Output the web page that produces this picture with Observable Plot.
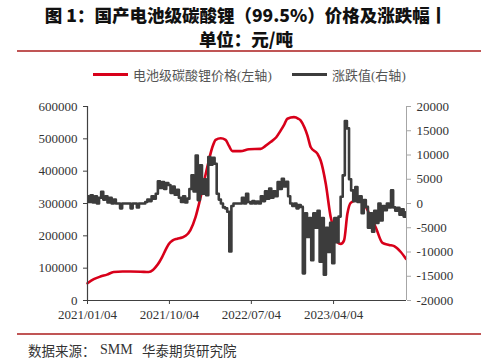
<!DOCTYPE html>
<html>
<head>
<meta charset="utf-8">
<script src="https://cdn.jsdelivr.net/npm/d3@7"></script>
<script src="https://cdn.jsdelivr.net/npm/@observablehq/plot@0.6"></script>
<style>
  html, body { margin:0; padding:0; background:#fff; }
  #wrap { position:relative; width:500px; height:362px; overflow:hidden; background:#fff; }
  .t { position:absolute; white-space:pre; }
  .title { left:0; width:492px; text-align:center; font-family:"Noto Sans CJK SC", sans-serif; font-weight:900; font-size:17.5px; color:#111; line-height:18px; }
  .sep { position:absolute; left:17px; width:464px; height:1.6px; background:#c05555; }
  .leg { font-family:"Noto Sans CJK SC", sans-serif; font-size:13px; color:#555; line-height:16px; }
  .sw { position:absolute; height:3px; }
  .cap { font-family:"Noto Sans CJK SC", sans-serif; font-size:13.5px; color:#333; line-height:16px; }
  #chart { position:absolute; left:0; top:95px; }
</style>
</head>
<body>
<div id="wrap">
  <div class="t title" style="top:6px;">图 1：国产电池级碳酸锂（99.5%）价格及涨跌幅丨</div>
  <div class="t title" style="top:30px;">单位：元/吨</div>
  <div class="sep" style="top:50px;"></div>
  <div class="sw" style="left:93px; top:73px; width:35px; background:#d8001a;"></div>
  <div class="t leg" style="left:133px; top:67px;">电池级碳酸锂价格<span style="font-family:'Liberation Serif',serif;">(</span>左轴<span style="font-family:'Liberation Serif',serif;">)</span></div>
  <div class="sw" style="left:292px; top:73px; width:35px; background:#3c3c3c;"></div>
  <div class="t leg" style="left:332px; top:67px;">涨跌值<span style="font-family:'Liberation Serif',serif;">(</span>右轴<span style="font-family:'Liberation Serif',serif;">)</span></div>
  <div id="chart"></div>
  <div class="sep" style="top:333px;"></div>
  <div class="t cap" style="left:28px; top:342px;">数据来源：</div>
  <div class="t cap" style="left:100px; top:342px; font-family:'Liberation Serif',serif; font-size:14px;">SMM</div>
  <div class="t cap" style="left:142px; top:342px;">华泰期货研究院</div>
</div>
<script>
// ---- data ----
const xTickLabels = ["2021/01/04", "2021/10/04", "2022/07/04", "2023/04/04"];
const leftTicks = [0, 100000, 200000, 300000, 400000, 500000, 600000];
const rightTicks = [-20000, -15000, -10000, -5000, 0, 5000, 10000, 15000, 20000];

// 电池级碳酸锂价格 (左轴)
const priceDates = [
  "2021/01/04","2021/01/25","2021/02/16","2021/03/10","2021/04/01","2021/05/01","2021/05/27","2021/06/30",
  "2021/07/27","2021/08/10","2021/08/19","2021/09/01","2021/09/10","2021/09/22","2021/10/02","2021/10/15",
  "2021/10/30","2021/11/15","2021/11/27","2021/12/13","2021/12/30","2022/01/16","2022/02/07","2022/02/24",
  "2022/03/07","2022/03/24","2022/04/09","2022/04/20","2022/05/02","2022/05/29","2022/06/26","2022/08/04",
  "2022/08/20","2022/09/06","2022/09/25","2022/10/10","2022/10/22","2022/11/01","2022/11/23","2022/12/08",
  "2022/12/15","2022/12/28","2023/01/07","2023/01/18","2023/02/09","2023/02/20","2023/03/09","2023/03/25",
  "2023/04/11","2023/04/17","2023/04/28","2023/05/09","2023/05/20","2023/05/31","2023/06/23","2023/07/15",
  "2023/08/01","2023/08/23","2023/09/14","2023/10/06","2023/10/23","2023/11/14","2023/12/01"
];
const priceValues = [
  53500, 66000, 74000, 80000, 88000, 89500, 89500, 89000,
  88000, 94000, 103000, 120000, 135000, 158000, 175000, 186000,
  191000, 195000, 200000, 218000, 258000, 320000, 412000, 474000,
  497000, 502000, 497000, 479000, 462000, 462000, 468000, 469000,
  478000, 490000, 505000, 526000, 545000, 562000, 567000, 562000,
  557000, 535000, 510000, 474000, 454000, 433000, 361000, 260000,
  206000, 180000, 175000, 186000, 268000, 302000, 312000, 299000,
  268000, 225000, 178000, 172000, 168000, 150000, 129000
];

// 涨跌值 (右轴), weekly readings starting 2021/01/04
const changeStart = "2021/01/04";
const changeStepDays = 7;
const changeValues = [
  1500, 300, 1700, 200, 1500, 0, 1200,
  2400, 800,
  1500, 200, 1200, 0, 800,
  0, 0, -1000, 0, 0, 0, 0, -1000, 0, 0, -800, 0, 0, 0,
  300, 800, 500, 1500, 1000, 2000,
  4600, 3200, 4400, 3000, 4200,
  3800, 2200, 3500, 1800, 2800,
  1200, 300, 1500, 200, 1000,
  3000, 5800, 2500,
  9900, 700, 7900, 2000, 5000, 1700,
  9600, 8000, 9400, 8200,
  2000, 800, 0,
  -800, -1000, -1700, -9900, -500,
  0, 0, 0, 0,
  1200, 0, 2000,
  300, 0, 500, 0, 400, 0,
  1500, 500, 2500, 1000, 3100, 1200, 2500, 1500,
  4400, 3000, 5100, 3500,
  4500, 1500,
  0, -500, 0, -1000, -300,
  -700, -14400,
  -2000, -6900, -3000, -11700,
  -2000, -5000, -1500, -12000, -3000, -14700,
  -5000, -10000, -4000, -12300,
  -3000, -8000, -2700,
  1400, 5800, 17000, 15500, 5000, 2700,
  500, 3400,
  300, 1500, -2000, 700,
  -700, -5000, -2000, -5800, -1500,
  -4000, 0, -3500, -500,
  -1400, 0, -800,
  2700,
  -800, -1500, -900, -2300, -1200, -2700, -1800
];

const xStart = "2021/01/04";
const xEnd = "2023/12/03";

// ---- build ----
const parse = d3.utcParse("%Y/%m/%d");
const leftMin = 0, leftMax = 600000, rightMin = -20000, rightMax = 20000;
const toLeft = v => (v - rightMin) / (rightMax - rightMin) * (leftMax - leftMin) + leftMin;
const fromLeft = v => (v - leftMin) / (leftMax - leftMin) * (rightMax - rightMin) + rightMin;

const priceData = priceDates.map((d, i) => ({date: parse(d), value: priceValues[i]}));
const start = parse(changeStart);
const changeData = changeValues.map((v, i) => ({date: d3.utcDay.offset(start, i * changeStepDays), value: v}));
const xDomain = [parse(xStart), parse(xEnd)];

const chart = Plot.plot({
  width: 500,
  height: 232,
  marginTop: 11,
  marginBottom: 27,
  marginLeft: 87,
  marginRight: 94,
  x: {type: "utc", domain: xDomain},
  y: {domain: [leftMin, leftMax]},
  style: {fontFamily: "'Liberation Serif', 'Times New Roman', serif", fontSize: "13px", color: "#333", background: "white", overflow: "visible"},
  marks: [
    Plot.line(priceData, {x: "date", y: "value", stroke: "#d8001a", strokeWidth: 2.6, curve: "monotone-x"}),
    Plot.line(changeData, {x: "date", y: d => toLeft(d.value), stroke: "#3c3c3c", strokeWidth: 2.6, curve: "step", clip: true}),
    Plot.ruleY([leftMin], {stroke: "#404040", strokeWidth: 1.2}),
    Plot.ruleX([xDomain[0]], {stroke: "#404040", strokeWidth: 1.2}),
    Plot.ruleX([xDomain[1]], {stroke: "#a6a6a6", strokeWidth: 1}),
    Plot.axisX({ticks: xTickLabels.map(parse), tickFormat: d3.utcFormat("%Y/%m/%d"), tickSize: 4, tickPadding: 5, label: null, stroke: "#404040"}),
    Plot.axisY({ticks: leftTicks, tickFormat: d3.format("d"), tickSize: 4, tickPadding: 6, label: null, stroke: "#404040"}),
    Plot.axisY({anchor: "right", ticks: rightTicks.map(toLeft), tickFormat: d => String(Math.round(fromLeft(d))), tickSize: 4, tickPadding: 6, label: null, stroke: "#a6a6a6"})
  ]
});
document.getElementById("chart").appendChild(chart);
</script>
</body>
</html>
